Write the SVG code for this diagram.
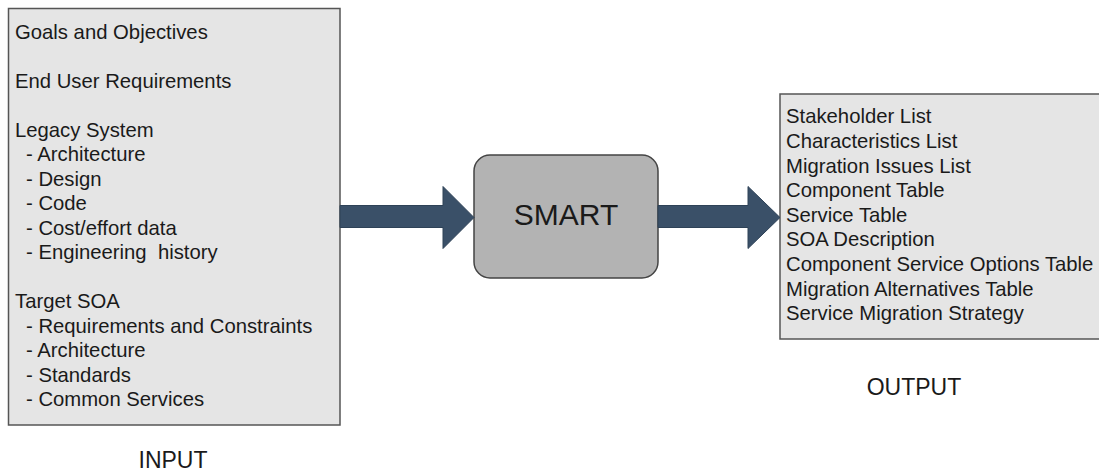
<svg xmlns="http://www.w3.org/2000/svg" width="1099" height="471" viewBox="0 0 1099 471">
<style>
.box{fill:#e5e5e5;stroke:#555;stroke-width:1.5}
.t{font-family:"Liberation Sans",Arial,sans-serif;font-size:20.3px;fill:#1a1a1a}
.lbl{font-family:"Liberation Sans",Arial,sans-serif;font-size:23px;fill:#1a1a1a;text-anchor:middle}
.arr{fill:#3a5068;stroke:#2e4257;stroke-width:1}
</style>
<rect width="1099" height="471" fill="#fff"/>
<g id="input">
<rect class="box" x="8.5" y="8.5" width="331.5" height="416.5"/>
<text class="t" x="15" y="39">Goals and Objectives</text>
<text class="t" x="15" y="88">End User Requirements</text>
<text class="t" x="15" y="137">Legacy System</text>
<text class="t" x="26" y="161.4">- Architecture</text>
<text class="t" x="26" y="185.9">- Design</text>
<text class="t" x="26" y="210.4">- Code</text>
<text class="t" x="26" y="234.8">- Cost/effort data</text>
<text class="t" x="26" y="259.3" xml:space="preserve">- Engineering  history</text>
<text class="t" x="15" y="308.2">Target SOA</text>
<text class="t" x="26" y="332.7">- Requirements and Constraints</text>
<text class="t" x="26" y="357.2">- Architecture</text>
<text class="t" x="26" y="381.6">- Standards</text>
<text class="t" x="26" y="406.1">- Common Services</text>
<text class="lbl" x="173" y="468">INPUT</text>
</g>
<g id="smart">
<rect x="474" y="155" width="184" height="123" rx="16" ry="16" fill="#b3b3b3" stroke="#444" stroke-width="1.5"/>
<text x="566" y="225" font-family="'Liberation Sans',Arial,sans-serif" font-size="30" fill="#1a1a1a" text-anchor="middle">SMART</text>
</g>
<g id="output">
<rect class="box" x="780" y="94" width="330" height="245"/>
<text class="t" x="786" y="123.3">Stakeholder List</text>
<text class="t" x="786" y="147.9">Characteristics List</text>
<text class="t" x="786" y="172.5">Migration Issues List</text>
<text class="t" x="786" y="197.1">Component Table</text>
<text class="t" x="786" y="221.7">Service Table</text>
<text class="t" x="786" y="246.3">SOA Description</text>
<text class="t" x="786" y="270.9">Component Service Options Table</text>
<text class="t" x="786" y="295.5">Migration Alternatives Table</text>
<text class="t" x="786" y="320.1">Service Migration Strategy</text>
<text class="lbl" x="914" y="395">OUTPUT</text>
</g>
<g id="connectors">
<polygon class="arr" points="340,205.5 443,205.5 443,186.5 474,217.5 443,248.5 443,227.5 340,227.5"/>
<polygon class="arr" points="658,205.5 748,205.5 748,186.5 780,217.5 748,248.5 748,227.5 658,227.5"/>
</g>
</svg>
